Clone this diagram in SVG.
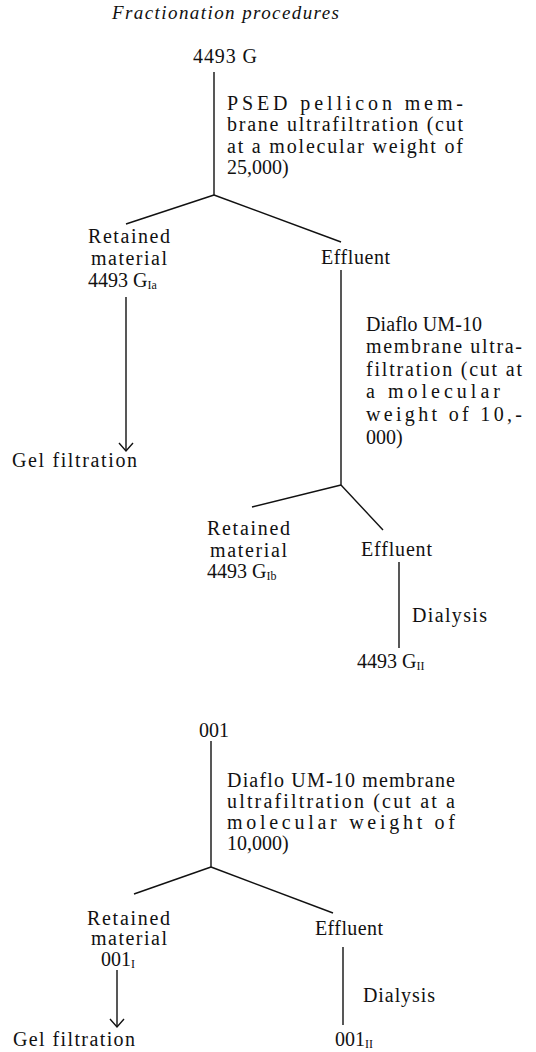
<svg xmlns="http://www.w3.org/2000/svg" width="536" height="1052" viewBox="0 0 536 1052">
<style>
text{font-family:"Liberation Serif","Times New Roman",serif;font-size:20px;fill:#111}
.title{font-style:italic;font-size:19px}
.sub{font-size:12px}
.c line,.c polyline{stroke:#111;stroke-width:1.4;fill:none}
</style>
<rect width="536" height="1052" fill="#fff"/>
<text class="title" x="112" y="19" textLength="227" lengthAdjust="spacing">Fractionation procedures</text>
<g class="c" id="connectors">
<line x1="214" y1="72" x2="214" y2="195"/>
<line x1="214" y1="195" x2="126" y2="224"/>
<line x1="214" y1="195" x2="341" y2="242"/>
<line x1="126" y1="297" x2="126" y2="451"/>
<polyline points="119,443 126,451 133,443"/>
<line x1="341" y1="270" x2="341" y2="485"/>
<line x1="341" y1="485" x2="252" y2="507"/>
<line x1="341" y1="485" x2="383" y2="530"/>
<line x1="399" y1="562" x2="399" y2="648"/>
<line x1="211" y1="741" x2="211" y2="867"/>
<line x1="211" y1="867" x2="134" y2="894"/>
<line x1="211" y1="867" x2="333" y2="913"/>
<line x1="117" y1="970" x2="117" y2="1027"/>
<polyline points="110,1019 117,1027 124,1019"/>
<line x1="343" y1="947" x2="343" y2="1025"/>
</g>
<g id="n4493G"><text x="193" y="63" textLength="64" lengthAdjust="spacing">4493 G</text></g>
<g id="lblPSED">
<text x="227" y="110" textLength="236" lengthAdjust="spacing">PSED pellicon mem-</text>
<text x="227" y="131" textLength="236" lengthAdjust="spacing">brane ultrafiltration (cut</text>
<text x="227" y="153" textLength="236" lengthAdjust="spacing">at a molecular weight of</text>
<text x="227" y="174">25,000)</text>
</g>
<g id="nRetained1">
<text x="88" y="243" textLength="82" lengthAdjust="spacing">Retained</text>
<text x="91" y="265" textLength="76" lengthAdjust="spacing">material</text>
<text x="88" y="287">4493 G<tspan class="sub" dy="2">Ia</tspan></text>
</g>
<g id="nGel1"><text x="12" y="467" textLength="125" lengthAdjust="spacing">Gel filtration</text></g>
<g id="nEffluent1"><text x="321" y="264" textLength="69" lengthAdjust="spacing">Effluent</text></g>
<g id="lblDiaflo1">
<text x="366" y="331" textLength="116" lengthAdjust="spacing">Diaflo UM-10</text>
<text x="366" y="353" textLength="156" lengthAdjust="spacing">membrane ultra-</text>
<text x="366" y="376" textLength="156" lengthAdjust="spacing">filtration (cut at</text>
<text x="366" y="398" textLength="134" lengthAdjust="spacing">a molecular</text>
<text x="366" y="421" textLength="156" lengthAdjust="spacing">weight of 10,-</text>
<text x="366" y="444">000)</text>
</g>
<g id="nRetained2">
<text x="207" y="535" textLength="83" lengthAdjust="spacing">Retained</text>
<text x="210" y="557" textLength="77" lengthAdjust="spacing">material</text>
<text x="207" y="578">4493 G<tspan class="sub" dy="2">Ib</tspan></text>
</g>
<g id="nEffluent2"><text x="361" y="556" textLength="71" lengthAdjust="spacing">Effluent</text></g>
<g id="lblDialysis1"><text x="412" y="622" textLength="75" lengthAdjust="spacing">Dialysis</text></g>
<g id="n4493GII"><text x="357" y="668">4493 G<tspan class="sub" dy="2">II</tspan></text></g>
<g id="n001"><text x="199" y="737">001</text></g>
<g id="lblDiaflo2">
<text x="227" y="787" textLength="228" lengthAdjust="spacing">Diaflo UM-10 membrane</text>
<text x="227" y="808" textLength="228" lengthAdjust="spacing">ultrafiltration (cut at a</text>
<text x="227" y="829" textLength="228" lengthAdjust="spacing">molecular weight of</text>
<text x="227" y="850">10,000)</text>
</g>
<g id="nRetained3">
<text x="87" y="925" textLength="83" lengthAdjust="spacing">Retained</text>
<text x="91" y="945" textLength="76" lengthAdjust="spacing">material</text>
<text x="101" y="966">001<tspan class="sub" dy="2">I</tspan></text>
</g>
<g id="nGel2"><text x="13" y="1046" textLength="122" lengthAdjust="spacing">Gel filtration</text></g>
<g id="nEffluent3"><text x="315" y="935" textLength="68" lengthAdjust="spacing">Effluent</text></g>
<g id="lblDialysis2"><text x="363" y="1002" textLength="72" lengthAdjust="spacing">Dialysis</text></g>
<g id="n001II"><text x="335" y="1046">001<tspan class="sub" dy="2">II</tspan></text></g>
</svg>
